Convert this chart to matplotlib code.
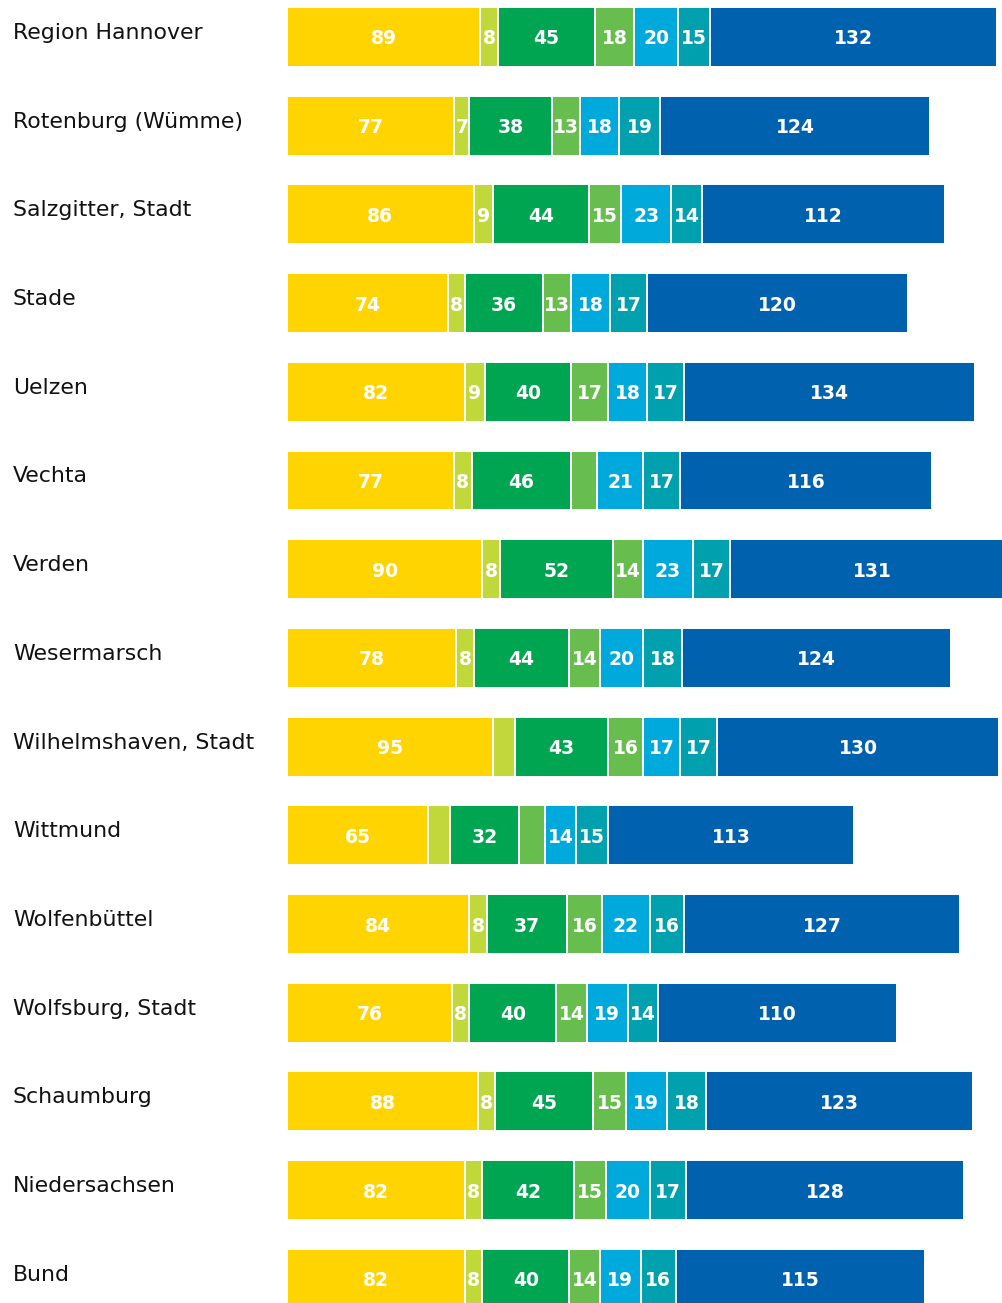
import numpy as np
import matplotlib
matplotlib.use("Agg")
import matplotlib.pyplot as plt
from matplotlib.transforms import blended_transform_factory

# ─── DATA ────────────────────────────────────────────────────────────────────
regions = [
    "Region Hannover", "Rotenburg (Wümme)", "Salzgitter, Stadt", "Stade",
    "Uelzen", "Vechta", "Verden", "Wesermarsch", "Wilhelmshaven, Stadt",
    "Wittmund", "Wolfenbüttel", "Wolfsburg, Stadt", "Schaumburg",
    "Niedersachsen", "Bund",
]

seg1 = [89, 77, 86, 74, 82, 77, 90, 78, 95, 65, 84, 76, 88, 82, 82]
seg2 = [8, 7, 9, 8, 9, 8, 8, 8, 10, 10, 8, 8, 8, 8, 8]
seg3 = [45, 38, 44, 36, 40, 46, 52, 44, 43, 32, 37, 40, 45, 42, 40]
seg4 = [18, 13, 15, 13, 17, 12, 14, 14, 16, 12, 16, 14, 15, 15, 14]
seg5 = [20, 18, 23, 18, 18, 21, 23, 20, 17, 14, 22, 19, 19, 20, 19]
seg6 = [15, 19, 14, 17, 17, 17, 17, 18, 17, 15, 16, 14, 18, 17, 16]
seg7 = [132, 124, 112, 120, 134, 116, 131, 124, 130, 113, 127, 110, 123, 128, 115]

# segments without a printed value in the source
hidden = {(5, 3), (8, 1), (9, 1), (9, 3)}

colors = ["#FFD400", "#C0D83A", "#00A551", "#67BD4E", "#00A9DC", "#00A0AF", "#0061AF"]

# ─── PLOT ────────────────────────────────────────────────────────────────────
fig = plt.figure(figsize=(10.03, 13.03), dpi=100)
left = 287 / 1003
ax = fig.add_axes([left, 0, 1 - left, 1])

row_px = 88.7      # row pitch in pixels
top_px = 37        # centre of first bar in pixels

segments = [seg1, seg2, seg3, seg4, seg5, seg6, seg7]
y = np.arange(len(regions))
starts = np.zeros(len(regions))
for k, (vals, col) in enumerate(zip(segments, colors)):
    vals = np.array(vals, dtype=float)
    ax.barh(y, vals, left=starts, height=0.676, color=col,
            edgecolor="white", linewidth=1.4)
    for i, v in enumerate(vals):
        if (i, k) in hidden:
            continue
        ax.text(starts[i] + v / 2, y[i] + 7.5 / row_px, f"{int(v)}",
                ha="center", va="baseline", color="white",
                fontsize=13.5, fontweight="bold", family="DejaVu Sans")
    starts += vals

ax.set_xlim(0, 716 / 2.171)
ax.set_ylim((1303 - top_px) / row_px, -top_px / row_px)
ax.axis("off")

# category labels, baseline slightly above bar centre
trans = blended_transform_factory(fig.transFigure, ax.transData)
for i, name in enumerate(regions):
    fig.text(13 / 1003, i + 2 / row_px, name, transform=trans,
             ha="left", va="baseline", fontsize=15.8,
             family="DejaVu Sans", color="#111111")

fig.savefig("out.png", dpi=100)
